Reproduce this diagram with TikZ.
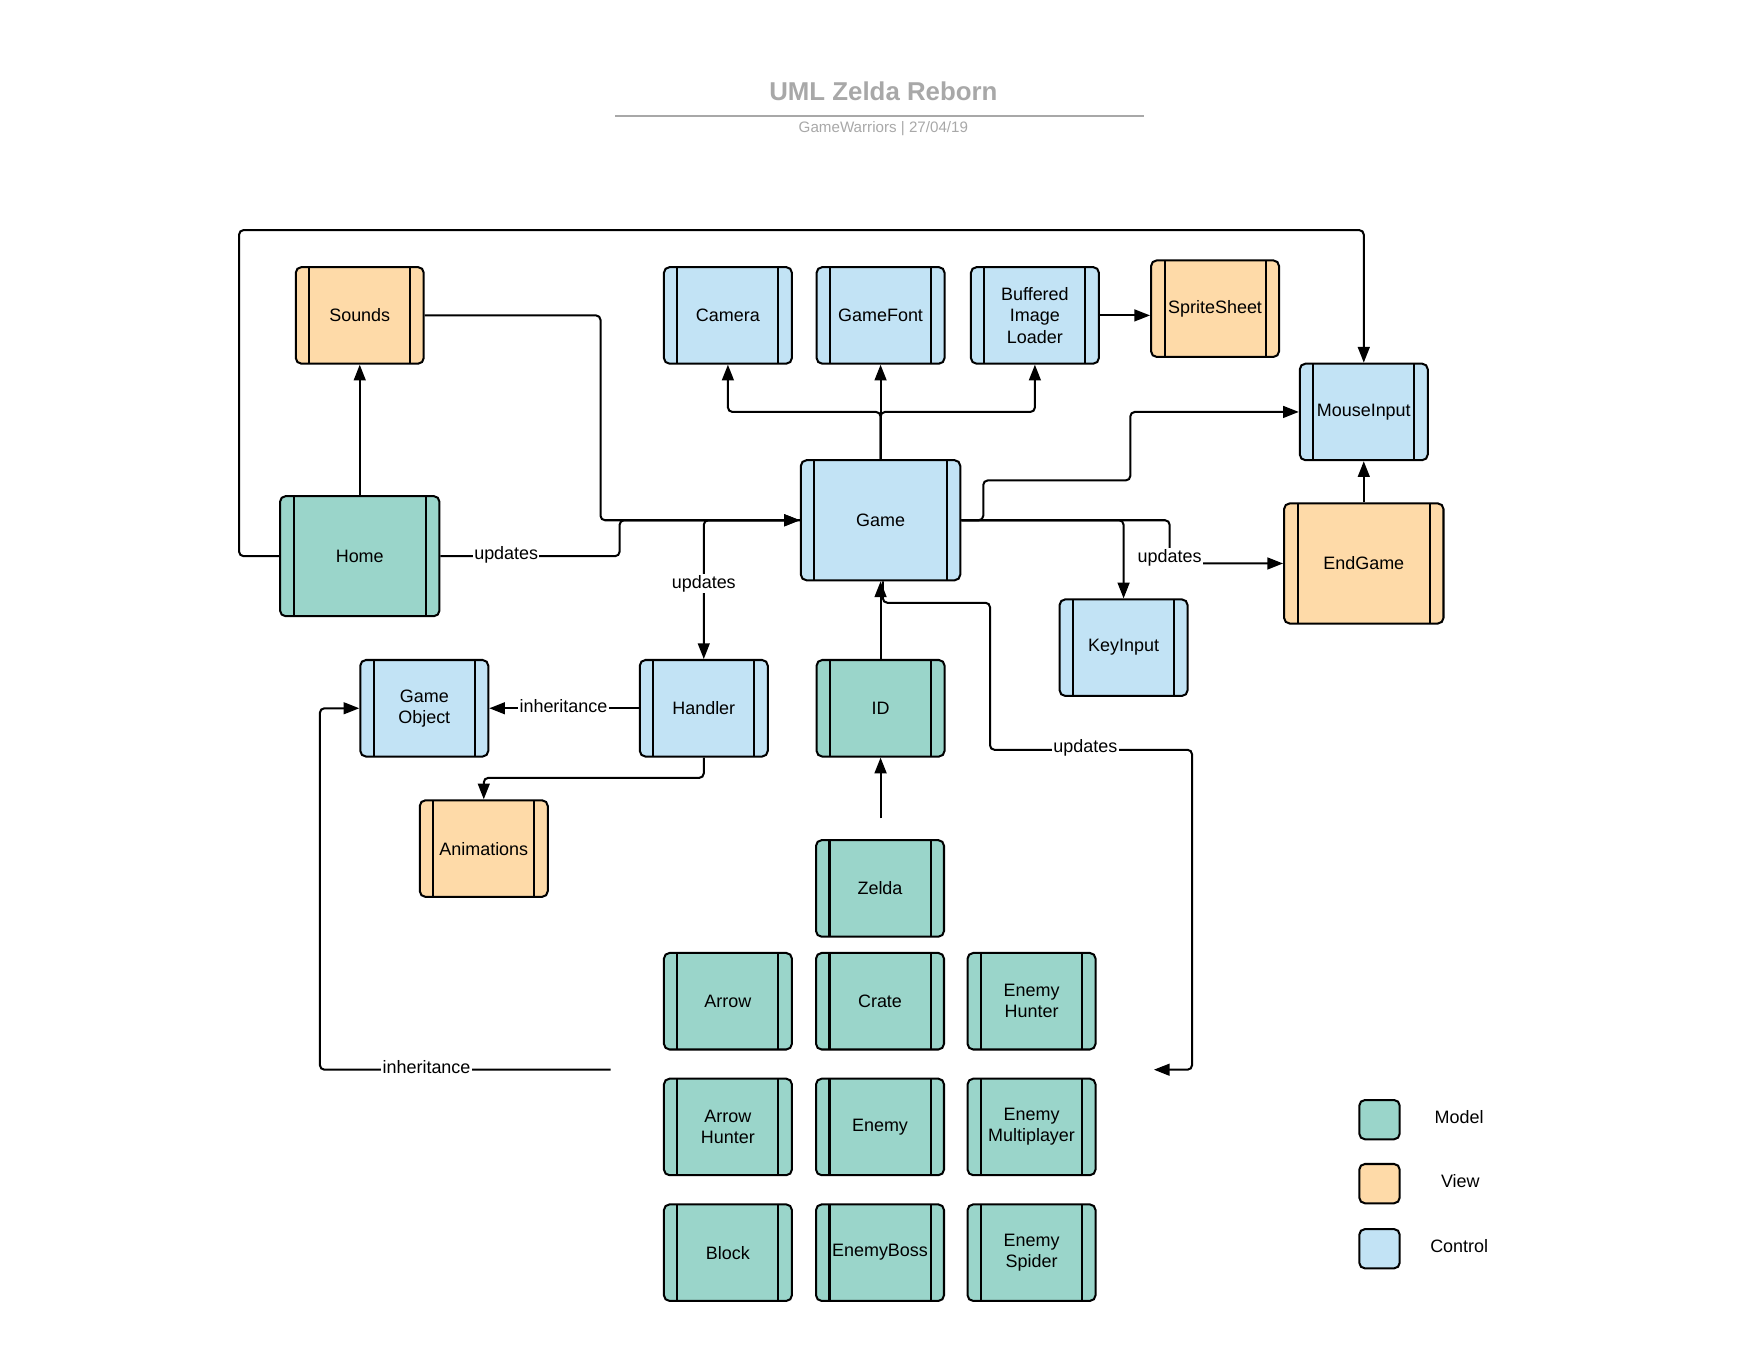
\documentclass[tikz,border=0pt]{standalone}
\usepackage{fontspec}
\setmainfont{Liberation Sans}
\usetikzlibrary{arrows.meta}
\definecolor{modelc}{HTML}{9AD5CA}
\definecolor{viewc}{HTML}{FEDAA8}
\definecolor{ctrlc}{HTML}{C2E3F5}
\definecolor{titlegray}{HTML}{A8A8A8}
\begin{document}
\begin{tikzpicture}[x=1pt,y=-1pt,
  cls/.style={draw, line width=1.8pt, rounded corners=5pt, minimum width=114pt, minimum height=86pt,
    inner sep=0pt, align=center, font=\fontsize{16}{19}\selectfont,
    path picture={
      \draw[line width=1.8pt] ([xshift=12pt]path picture bounding box.north west) -- ([xshift=12pt]path picture bounding box.south west);
      \draw[line width=1.8pt] ([xshift=-12pt]path picture bounding box.north east) -- ([xshift=-12pt]path picture bounding box.south east);
    }},
  big/.style={minimum width=142pt, minimum height=107pt},
  mbox/.style={cls, fill=modelc},
  vbox/.style={cls, fill=viewc},
  cbox/.style={cls, fill=ctrlc},
  legbox/.style={draw, line width=1.8pt, rounded corners=5pt, minimum width=36pt, minimum height=35pt, inner sep=0pt},
  legtxt/.style={font=\fontsize{16}{19}\selectfont},
  conn/.style={line width=1.8pt, rounded corners=4pt},
  arr/.style={conn, -{Triangle[length=14pt,width=10.5pt]}},
  lbl/.style={fill=white, inner sep=1pt, font=\fontsize{16}{19}\selectfont},
]
\useasboundingbox (0,0) rectangle (1568,1212);

% title
\node[font=\fontsize{23}{27}\selectfont\bfseries, text=titlegray] (title) at (787,81) {UML Zelda Reborn};
\draw[titlegray, line width=1.6pt] (548,103) -- (1019,103);
\node[font=\fontsize{13.5}{16}\selectfont, text=titlegray] (subtitle) at (787,114.5) {GameWarriors | 27/04/19};

% nodes
\node[vbox] (sounds) at (320.5,281) {Sounds};
\node[cbox] (camera) at (648.5,281) {Camera};
\node[cbox] (gamefont) at (784.5,281) {GameFont};
\node[cbox] (bil) at (922,281) {Buffered\\Image\\Loader};
\node[vbox] (sprite) at (1082.5,275) {SpriteSheet};
\node[cbox] (mouse) at (1215,367) {MouseInput};
\node[mbox, big] (home) at (320.5,495.5) {Home};
\node[cbox, big] (game) at (784.5,463.5) {Game};
\node[vbox, big] (endgame) at (1215,502) {EndGame};
\node[cbox] (keyinput) at (1001,577) {KeyInput};
\node[cbox] (gameobj) at (378,631) {Game\\Object};
\node[cbox] (handler) at (627,631) {Handler};
\node[mbox] (id) at (784.5,631) {ID};
\node[vbox] (anim) at (431,756) {Animations};
\node[mbox] (zelda) at (784,791.5) {Zelda};

\node[mbox] (arrow) at (648.5,892) {Arrow};
\node[mbox] (crate) at (784,892) {Crate};
\node[mbox] (ehunter) at (919,892) {Enemy\\Hunter};
\node[mbox] (ahunter) at (648.5,1004) {Arrow\\Hunter};
\node[mbox] (enemy) at (784,1004) {Enemy};
\node[mbox] (emulti) at (919,1004) {Enemy\\Multiplayer};
\node[mbox] (block) at (648.5,1116) {Block};
\node[mbox] (eboss) at (784,1116) {EnemyBoss};
\node[mbox] (espider) at (919,1116) {Enemy\\Spider};

% group anchors
\coordinate (grpT) at (784.5,729);
\coordinate (grpL) at (544,953);
\coordinate (grpR) at (1028,953);

% connectors
\draw[arr] (home.north) -- (sounds.south);
\draw[arr] (home.west) -- (213,495.5) -- (213,205) -- (1215,205) -- (mouse.north);
\draw[arr] (home.east) -- (552,495.5) -- (552,463.5) -- (game.west);
\draw[arr] (sounds.east) -- (535,281) -- (535,463.5) -- (game.west);
\draw[arr] (game.west) -- (627,463.5) -- (handler.north);
\draw[arr] (game.north) -- (784.5,367) -| (camera.south);
\draw[arr] (game.north) -- (gamefont.south);
\draw[arr] (game.north) -- (784.5,367) -| (bil.south);
\draw[arr] (bil.east) -- (bil.east -| sprite.west);
\draw[arr] (game.east) -- (876,463.5) -- (876,428) -- (1007,428) -- (1007,367) -- (mouse.west);
\draw[arr] (game.east) -- (1001,463.5) -- (keyinput.north);
\draw[arr] (game.east) -- (1042,463.5) -- (1042,502) -- (endgame.west);
\draw[arr] (endgame.north) -- (mouse.south);
\draw[arr] (id.north) -- (game.south);
\draw[arr] (grpT) -- (id.south);
\draw[arr] ([xshift=2pt]game.south) -- (786.5,537) -- (882,537) -- (882,668) -- (1062,668) -- (1062,953) -- (grpR);
\draw[arr] (grpL) -- (285,953) -- (285,631) -- (gameobj.west);
\draw[arr] (handler.west) -- (gameobj.east);
\draw[arr] (handler.south) -- (627,693) -| (anim.north);

% labels
\node[lbl] (l1) at (451,494) {updates};
\node[lbl] (l2) at (627,520) {updates};
\node[lbl] (l3) at (1042,497) {updates};
\node[lbl] (l4) at (967,666) {updates};
\node[lbl] (l5) at (502,629) {inheritance};
\node[lbl] (l6) at (380,951) {inheritance};

% legend
\node[legbox, fill=modelc] (lm) at (1229,997.5) {};
\node[legbox, fill=viewc] (lv) at (1229,1054.5) {};
\node[legbox, fill=ctrlc] (lc) at (1229,1112.5) {};
\node[legtxt] (lmt) at (1300,995) {Model};
\node[legtxt] (lvt) at (1301,1052) {View};
\node[legtxt] (lct) at (1300,1110) {Control};
\end{tikzpicture}
\end{document}
